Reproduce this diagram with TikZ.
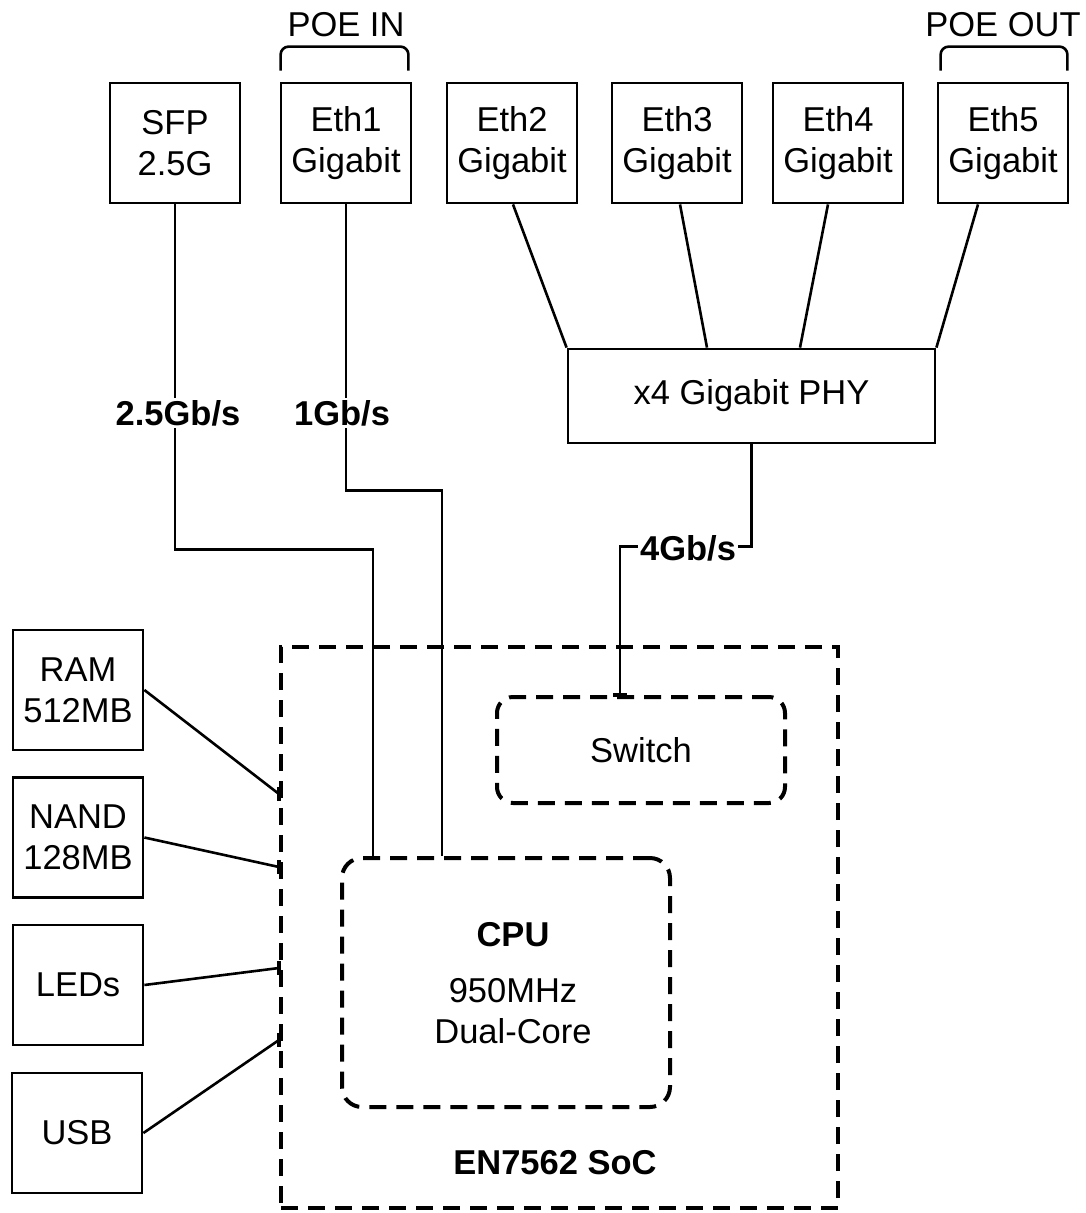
\documentclass[tikz,border=0pt]{standalone}
\usepackage{fontspec}
\setmainfont{Liberation Sans}
\usetikzlibrary{calc}
\newcommand\fs{\fontsize{34.5}{41}\selectfont}
\tikzset{
  box/.style={draw, line width=2.8pt, minimum width=130pt, minimum height=120pt, align=center, inner sep=0pt, font=\fs},
  dbox/.style={draw, line width=4pt, dash pattern=on 17pt off 10pt, inner sep=0pt, align=center, font=\fs},
  conn/.style={line width=2.6pt},
  tick/.style={line width=4pt},
  lbl/.style={fill=white, inner sep=2pt, font=\fs\bfseries},
  txt/.style={inner sep=0pt, align=center, font=\fs},
  brk/.style={line width=2.6pt, rounded corners=8pt}
}
\begin{document}
\begin{tikzpicture}[x=1pt,y=1pt]
\useasboundingbox (0,0) rectangle (1086,-1213);
% top boxes
\node[box] (sfp)  at (175,-143) {SFP\\2.5G};
\node[box] (eth1) at (346,-143) {Eth1\\Gigabit};
\node[box] (eth2) at (512,-143) {Eth2\\Gigabit};
\node[box] (eth3) at (677,-143) {Eth3\\Gigabit};
\node[box] (eth4) at (838,-143) {Eth4\\Gigabit};
\node[box] (eth5) at (1003,-143) {Eth5\\Gigabit};
% PHY
\node[box, minimum width=367pt, minimum height=94pt] (phy) at (751.5,-396) {x4 Gigabit PHY};
% left boxes
\node[box] (ram)  at (78,-690) {RAM\\512MB};
\node[box] (nand) at (78,-837.5) {NAND\\128MB};
\node[box] (leds) at (78,-985) {LEDs};
\node[box] (usb)  at (77,-1133) {USB};
% SoC
\node[dbox, minimum width=557pt, minimum height=561pt] (soc) at (559.5,-927.5) {};
\node[txt, font=\fs\bfseries] (soclbl) at (555,-1163) {EN7562 SoC};
\node[dbox, rounded corners=16pt, minimum width=288pt, minimum height=106pt] (switch) at (641,-750) {Switch};
\node[dbox, rounded corners=20pt, minimum width=328pt, minimum height=249pt] (cpu) at (506,-982.5) {};
\node[txt, font=\fs\bfseries] (cputitle) at (513,-935) {CPU};
\node[txt] (cputext) at (513,-1011) {950MHz\\Dual-Core};
% POE brackets
\draw[brk] ([xshift=1pt,yshift=11pt]eth1.north west) -- ([xshift=1pt,yshift=35pt]eth1.north west) -- ([xshift=-4pt,yshift=35pt]eth1.north east) -- ([xshift=-4pt,yshift=11pt]eth1.north east);
\node[txt] (poein) at (346,-25) {POE IN};
\draw[brk] ([xshift=4pt,yshift=11pt]eth5.north west) -- ([xshift=4pt,yshift=35pt]eth5.north west) -- ([xshift=-2pt,yshift=35pt]eth5.north east) -- ([xshift=-2pt,yshift=11pt]eth5.north east);
\node[txt] (poeout) at (1003,-25) {POE OUT};
% connectors to PHY
\draw[conn] ([xshift=1pt]eth2.south) -- (phy.north west);
\draw[conn] ([xshift=3pt]eth3.south) -- ([xshift=-44.5pt]phy.north);
\draw[conn] ([xshift=-10pt]eth4.south) -- ([xshift=48.5pt]phy.north);
\draw[conn] ([xshift=-25pt]eth5.south) -- (phy.north east);
% uplinks
\draw[conn] (sfp.south) -- ++(0,-345) -| ([xshift=-133pt]cpu.north);
\draw[conn] (eth1.south) -- ++(0,-286) -| ([xshift=-64pt]cpu.north);
\draw[conn] (phy.south) -- ++(0,-102) -| ([xshift=-21pt]switch.north);
\node[lbl] (l25) at (178,-413) {2.5Gb/s};
\node[lbl] (l1) at (342,-413) {1Gb/s};
\node[lbl] (l4) at (688,-548) {4Gb/s};
% left connectors
\draw[conn] (ram.east) -- ([yshift=133.5pt]soc.west);
\draw[conn] (nand.east) -- ([yshift=60.5pt]soc.west);
\draw[conn] (leds.east) -- ([yshift=-40.5pt]soc.west);
\draw[conn] (usb.east) -- ([yshift=-112.5pt]soc.west);
\draw[tick] ([yshift=140.5pt]soc.west) -- ++(0,-14);
\draw[tick] ([yshift=67.5pt]soc.west) -- ++(0,-14);
\draw[tick] ([yshift=-33.5pt]soc.west) -- ++(0,-14);
\draw[tick] ([yshift=-105.5pt]soc.west) -- ++(0,-14);
\draw[tick] ([xshift=-28pt]switch.north) -- ++(14,0);
\end{tikzpicture}
\end{document}
